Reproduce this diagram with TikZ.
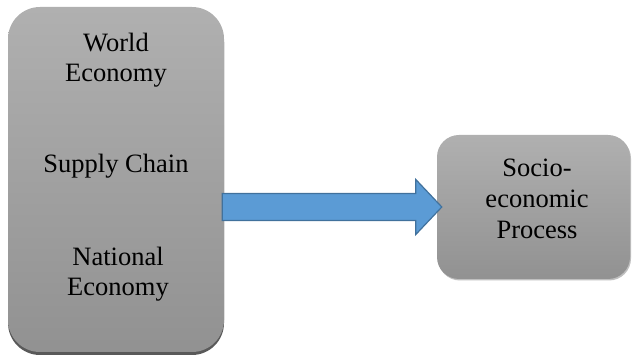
\documentclass[tikz,border=0pt]{standalone}
\usepackage{fontspec}
\setmainfont{Liberation Serif}
\usetikzlibrary{shadows,calc}
\begin{document}
\begin{tikzpicture}[x=1pt,y=-1pt,
  graybox/.style={rounded corners=#1, top color=black!31, bottom color=black!43, draw=none},
  lbl/.style={font=\fontsize{26.5}{30}\selectfont, align=center, text=black, inner sep=0pt},
  blockarrow/.style={fill=arrowblue, draw=arrowedge, line width=1.2pt, line join=miter}
]
\definecolor{arrowblue}{HTML}{5B9BD5}
\definecolor{arrowedge}{HTML}{41719C}
\useasboundingbox (0,0) rectangle (633,358);
% left box
\node[graybox=32, minimum width=216pt, minimum height=345pt,
  drop shadow={shadow xshift=0pt, shadow yshift=-3pt, fill=black!65, opacity=1}] (left) at (116,179.5) {};
% right box
\node[graybox=22, minimum width=193pt, minimum height=144pt,
  drop shadow={shadow xshift=1pt, shadow yshift=-1.5pt, fill=black!25, opacity=1}] (right) at (533.5,207) {};
% texts
\node[lbl] (world) at (116,60) {World\\Economy};
\node[lbl] (supply) at (116,166) {Supply Chain};
\node[lbl] (national) at (118,274) {National\\Economy};
\node[lbl, font=\fontsize{26.5}{31}\selectfont] (socio) at (537,199) {Socio-\\economic\\Process};
% arrow
\coordinate (tip) at ($(right.west)+(5,0)$);
\coordinate (start) at ($(left.east|-tip)+(-2,0)$);
\draw[blockarrow] ($(start)+(0,-13.5)$) -- ($(tip)+(-26,-13.5)$) -- ($(tip)+(-26,-27.5)$) -- (tip)
  -- ($(tip)+(-26,27.5)$) -- ($(tip)+(-26,13.5)$) -- ($(start)+(0,13.5)$) -- cycle;
\end{tikzpicture}
\end{document}
